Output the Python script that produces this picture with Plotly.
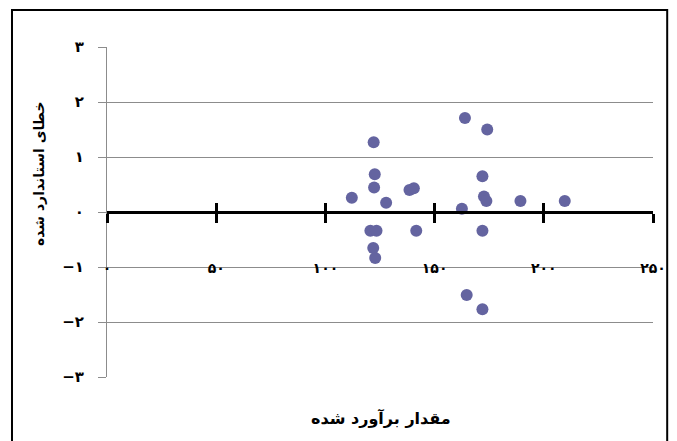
import plotly.graph_objects as go

# Data
estimated = [112.1, 122.1, 122.6, 122.3, 127.8, 138.5, 140.5, 120.6, 123.4, 141.6,
             121.9, 122.8, 163.9, 174.1, 171.9, 172.6, 173.7, 162.5, 189.3, 209.6,
             171.9, 164.7, 171.9]
std_error = [0.26, 1.27, 0.685, 0.445, 0.17, 0.40, 0.43, -0.34, -0.34, -0.34,
             -0.655, -0.835, 1.71, 1.50, 0.65, 0.28, 0.20, 0.06, 0.20, 0.20,
             -0.34, -1.51, -1.77]

x_tickvals = [0, 50, 100, 150, 200, 250]
x_ticktext = ["۰", "۵۰", "۱۰۰", "۱۵۰", "۲۰۰", "۲۵۰"]
y_tickvals = [-3, -2, -1, 0, 1, 2, 3]
y_ticktext = ["−۳", "−۲", "−۱", "۰", "۱", "۲", "۳"]

x_title = "مقدار برآورد شده"
y_title = "خطای استاندارد شده"

FONT = "DejaVu Sans"
GRAY = "#8c8c8c"

fig = go.Figure()
fig.add_trace(go.Scatter(
    x=estimated, y=std_error, mode="markers",
    marker=dict(size=12, color="#6464A0", line=dict(width=0)),
    showlegend=False, hoverinfo="skip",
))

common_x = dict(range=[0, 250], tickvals=x_tickvals, showgrid=False, zeroline=False,
                fixedrange=True)

fig.update_layout(
    width=669, height=433,
    margin=dict(l=99, r=24, t=39, b=64),
    paper_bgcolor="white", plot_bgcolor="white",
    font=dict(family=FONT, size=13, color="black"),
    xaxis=dict(**common_x, anchor="free", position=0.5,
               showline=True, linecolor="black", linewidth=3,
               ticks="outside", ticklen=9, tickwidth=3, tickcolor="black",
               showticklabels=False),
    xaxis3=dict(**common_x, overlaying="x", anchor="free", position=0.5,
                showline=False, ticks="inside", ticklen=9, tickwidth=3,
                tickcolor="black", showticklabels=False),
    xaxis2=dict(**common_x, overlaying="x", anchor="free", position=0.362,
                showline=False, ticks="", ticktext=x_ticktext,
                showticklabels=True,
                tickfont=dict(family=FONT, size=14, color="black", weight="bold")),
    yaxis=dict(range=[-3, 3], tickvals=y_tickvals, ticktext=y_ticktext,
               showgrid=True, gridcolor=GRAY, gridwidth=1, zeroline=False,
               showline=True, linecolor=GRAY, linewidth=1,
               ticks="outside", ticklen=8, tickcolor=GRAY, tickwidth=1,
               ticklabelstandoff=11, anchor="x", automargin=False,
               tickfont=dict(family=FONT, size=15, color="black", weight="bold"),
               fixedrange=True),
    annotations=[
        dict(text=x_title, xref="paper", yref="paper", x=0.502, y=-0.124,
             showarrow=False, xanchor="center", yanchor="middle",
             font=dict(family=FONT, size=16, color="black", weight="bold")),
        dict(text=y_title, xref="paper", yref="paper", x=-0.1245, y=0.615,
             showarrow=False, xanchor="center", yanchor="middle", textangle=-90,
             font=dict(family=FONT, size=14, color="black", weight="bold")),
    ],
    shapes=[
        dict(type="rect", xref="paper", yref="paper",
             x0=-0.174, x1=1.026, y0=-0.25, y1=1.112,
             line=dict(color="black", width=2), fillcolor="rgba(0,0,0,0)",
             layer="below"),
    ],
)

# dummy traces to activate overlay axes
fig.add_trace(go.Scatter(x=[None], y=[None], xaxis="x2", showlegend=False, hoverinfo="skip"))
fig.add_trace(go.Scatter(x=[None], y=[None], xaxis="x3", showlegend=False, hoverinfo="skip"))

fig.write_html("out.html")
